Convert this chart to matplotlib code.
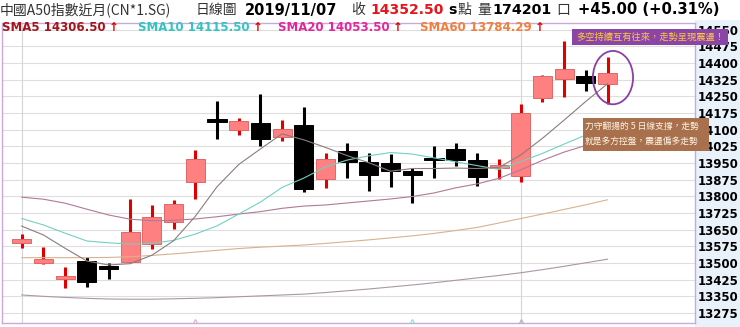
import numpy as np
import matplotlib.pyplot as plt
from matplotlib.patches import Rectangle, Ellipse

plt.rcParams['font.family'] = ['DejaVu Sans', 'Noto Sans CJK TC']

# daily candles, 2019/10/01 - 2019/11/07
dates = ['10/01', '10/02', '10/03', '10/04', '10/07', '10/08', '10/09', '10/10',
         '10/11', '10/14', '10/15', '10/16', '10/17', '10/18', '10/21', '10/22',
         '10/23', '10/24', '10/25', '10/28', '10/29', '10/30', '10/31', '11/01',
         '11/04', '11/05', '11/06', '11/07']
opens = [13592, 13499, 13427, 13508, 13486, 13506, 13584, 13683, 13863, 14143,
         14098, 14131, 14066, 14121, 13878, 14005, 13956, 13949, 13915, 13970,
         14012, 13964, 13930, 13892, 14244, 14327, 14343, 14305]
highs = [13629, 13573, 13481, 13528, 13499, 13788, 13760, 13784, 14009, 14230,
         14151, 14259, 14144, 14202, 13994, 14041, 13994, 13989, 13926, 14027,
         14039, 13996, 13967, 14216, 14346, 14500, 14369, 14428]
lows = [13566, 13494, 13386, 13393, 13428, 13503, 13563, 13653, 13788, 14058,
        14076, 14028, 14050, 13821, 13836, 13884, 13824, 13841, 13769, 13884,
        13938, 13847, 13877, 13866, 14223, 14248, 14275, 14216]
closes = [13606, 13518, 13442, 13415, 13472, 13640, 13706, 13766, 13967, 14137,
          14140, 14058, 14103, 13833, 13968, 13953, 13896, 13914, 13896, 13966,
          13964, 13886, 13937, 14176, 14343, 14373, 14307.5, 14352.5]

sma5 = [13666, 13626, 13566, 13509, 13491, 13497, 13535, 13600, 13710, 13843,
        13943, 14013, 14081, 14054, 14020, 13983, 13951, 13913, 13925, 13925,
        13927, 13925, 13930, 13986, 14061, 14143, 14227, 14306.5]
sma10 = [13700, 13671, 13634, 13599, 13591, 13585, 13588, 13602, 13630, 13667,
         13720, 13774, 13840, 13882, 13932, 13963, 13982, 13997, 13990, 13973,
         13955, 13938, 13921, 13956, 13993, 14035, 14076, 14115.5]
sma20 = [13796, 13787, 13769, 13742, 13716, 13697, 13690, 13692, 13698, 13708,
         13720, 13731, 13746, 13756, 13761, 13770, 13779, 13788, 13799, 13815,
         13838, 13856, 13881, 13919, 13962, 13999, 14029, 14053.5]
sma60 = [13524, 13524, 13524, 13524, 13525, 13528, 13534, 13541, 13549, 13557,
         13565, 13571, 13576, 13581, 13588, 13596, 13604, 13613, 13622, 13633,
         13646, 13660, 13680, 13700, 13720, 13741, 13762, 13784.29]
ma_long = [13356, 13350, 13345, 13341, 13338, 13337, 13337, 13339, 13341, 13344,
           13348, 13352, 13356, 13360, 13367, 13375, 13383, 13392, 13401, 13411,
           13422, 13433, 13444, 13456, 13470, 13485, 13501, 13517]

yticks = list(range(13275, 14551, 75))
sma_labels = ['SMA5 14306.50', 'SMA10 14115.50', 'SMA20 14053.50', 'SMA60 13784.29']
note1 = '多空持續互有往來，走勢呈現震盪！'
note2 = '力守翻揚的 5 日線支撐，走勢\n就是多方控盤，震盪偏多走勢'

W, H = 740, 327
def fx(x):
    return x / W
def fy(y):
    return 1 - y / H

fig = plt.figure(figsize=(7.4, 3.27), dpi=100)
fig.patch.set_facecolor('white')
# light blue strip behind the price scale
fig.add_artist(Rectangle((fx(695), 0), fx(45), fy(20), transform=fig.transFigure,
                         facecolor='#e9f2fa', edgecolor='none', zorder=0))

ax = fig.add_axes([fx(2), fy(323), fx(693), fy(22.7) - fy(323)])
ax.set_facecolor('white')
ax.set_xlim(-0.91, 31.03)
ax.set_ylim(13230, 14581)
for s in ax.spines.values():
    s.set_color('#c9a9dd')
    s.set_linewidth(1)

for t in yticks:
    ax.axhline(t, color='#dedede', lw=0.8, zorder=0)
# month separators
for i, d in enumerate(dates):
    if i == 0 or d[:2] != dates[i - 1][:2]:
        ax.axvline(i, color='#d4d4d4', lw=0.8, zorder=0)

ax.yaxis.tick_right()
ax.set_yticks(yticks)
ax.set_yticklabels([str(t) for t in yticks], fontweight='bold', fontsize=8.5)
ax.tick_params(axis='y', length=0, pad=2)
ax.set_xticks([])

n = len(closes)
x = np.arange(n)
bw = 0.88
for i in range(n):
    o, h, l, c = opens[i], highs[i], lows[i], closes[i]
    up = c >= o
    wick = '#e00000' if up else 'black'
    ax.vlines(i, l, h, color=wick, lw=2.2, zorder=2)
    lo = min(o, c)
    hgt = max(abs(c - o), 12)
    if abs(c - o) < 12:
        lo = (o + c) / 2 - 6
    if up:
        ax.add_patch(Rectangle((i - bw / 2, lo), bw, hgt, facecolor='#ff8080',
                               edgecolor='#e06868', lw=0.7, zorder=3))
    else:
        ax.add_patch(Rectangle((i - bw / 2, lo), bw, hgt, facecolor='black',
                               edgecolor='black', lw=0.7, zorder=3))

ax.plot(x, ma_long, color='#a898a8', lw=0.8, zorder=4)
ax.plot(x, sma60, color='#d8b290', lw=0.8, zorder=4)
ax.plot(x, sma20, color='#b07a98', lw=0.8, zorder=4)
ax.plot(x, sma10, color='#72d0c2', lw=0.8, zorder=4)
ax.plot(x, sma5, color='#8c7c7c', lw=0.8, zorder=4)

# small carets on the bottom edge, mostly cut off
for i, col in [(8, '#d8b0c8'), (18, '#90d8d0'), (23, '#b0b0b0')]:
    ax.plot(i, 13222, marker='^', ms=9, mfc='none', mec=col, mew=0.8,
            zorder=4, clip_on=True)

# circle around the last candle
last = n - 1
ax.add_patch(Ellipse((last + 0.25, (highs[last] + lows[last]) / 2 + 12), 1.85, 240,
                     facecolor='none', edgecolor='#8a3fa6', lw=1.3, zorder=5))

# header row
cjk = ['Noto Sans CJK TC', 'DejaVu Sans']
ty = fy(10)
fig.text(fx(0), ty, '中國A50指數近月(CN*1.SG)', family=cjk, fontsize=10,
         color='#333333', va='center')
fig.text(fx(196), ty, '日線圖', family=cjk, fontsize=10, color='#333333', va='center')
fig.text(fx(245), ty, '2019/11/07', fontsize=10.5, fontweight='bold', va='center')
fig.text(fx(351), ty, '收', family=cjk, fontsize=10, color='#333333', va='center')
fig.text(fx(370), ty, '14352.50', fontsize=10.1, fontweight='bold',
         color='#e8141c', va='center')
fig.text(fx(448), ty, 's', fontsize=10.1, fontweight='bold', va='center')
fig.text(fx(458), ty, '點', family=cjk, fontsize=10, color='#333333', va='center')
fig.text(fx(477), ty, '量', family=cjk, fontsize=10, color='#333333', va='center')
fig.text(fx(492), ty, '174201', fontsize=10.3, fontweight='bold', va='center')
fig.text(fx(556), ty, '口', family=cjk, fontsize=10, color='#333333', va='center')
fig.text(fx(578), ty, '+45.00 (+0.31%)', fontsize=10.6, fontweight='bold', va='center')

# moving average legend row
sma_colors = ['#a3141c', '#33c3c3', '#e0289a', '#f0803c']
sma_x = [2, 138, 278, 420]
for lab, col, xp in zip(sma_labels, sma_colors, sma_x):
    t = fig.text(fx(xp), fy(27.5), lab, fontsize=8.5, fontweight='bold',
                 color=col, va='center')
    ax.annotate('↑', xy=(1, 0.5), xycoords=t, xytext=(2, 0),
                textcoords='offset points', va='center', ha='left',
                fontsize=8.5, fontweight='bold', color='#e00000',
                annotation_clip=False)

# comment boxes
fig.add_artist(Rectangle((fx(572), fy(44.5)), fx(156), fy(29) - fy(44.5),
                         transform=fig.transFigure, facecolor='#8b45a6',
                         edgecolor='none', zorder=10))
fig.text(fx(650), fy(36.8), note1, family=cjk, fontsize=6.7, color='#ffc83a',
         ha='center', va='center', zorder=11)
fig.add_artist(Rectangle((fx(583), fy(150.5)), fx(126), fy(117.5) - fy(150.5),
                         transform=fig.transFigure, facecolor='#a8704c',
                         edgecolor='none', zorder=10))
fig.text(fx(585), fy(134), note2, family=cjk, fontsize=6.3, color='#fff4e4',
         ha='left', va='center', linespacing=1.9, zorder=11)

fig.savefig('out.png', dpi=100)
